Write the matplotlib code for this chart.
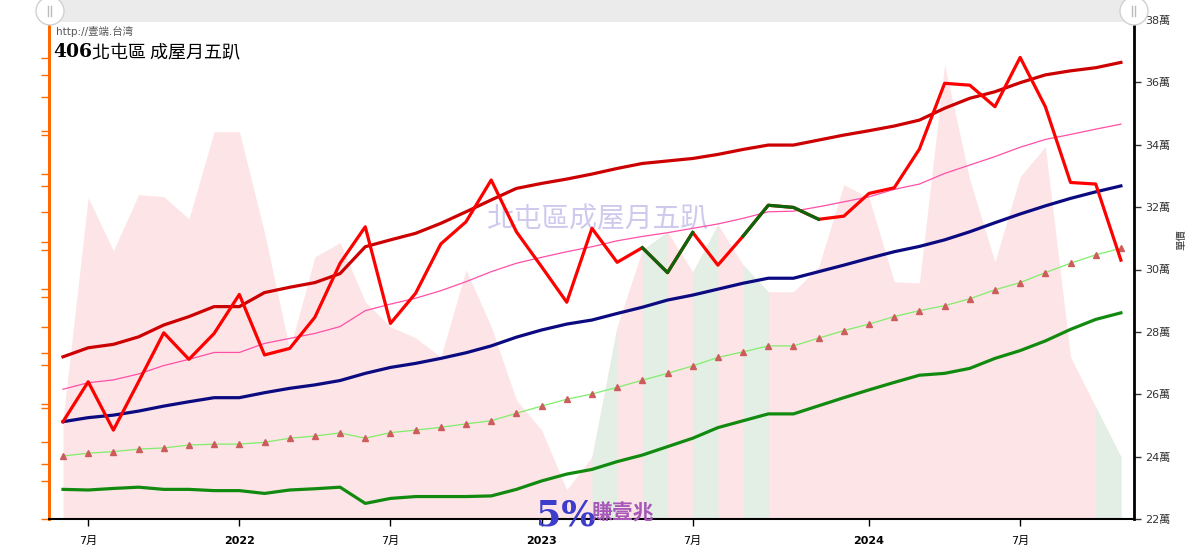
import matplotlib
matplotlib.use("Agg")
import matplotlib.pyplot as plt
from matplotlib.patches import Rectangle, Circle
import numpy as np

plt.rcParams['font.family'] = ['DejaVu Sans', 'Noto Sans CJK TC']

# monthly points, 2021-06 .. 2024-11 (one month repeated in late 2023 on the source axis)
tick_idx = [1, 7, 13, 19, 25, 32, 38]
tick_labels = ["7月", "2022", "7月", "2023", "7月", "2024", "7月"]

# unit price lines (萬/坪)
upper_band = [27.20, 27.49, 27.60, 27.84, 28.22, 28.49, 28.81, 28.81, 29.26, 29.43, 29.58,
              29.87, 30.73, 30.95, 31.16, 31.48, 31.85, 32.23, 32.60, 32.76, 32.90, 33.06,
              33.24, 33.40, 33.48, 33.56, 33.69, 33.85, 33.99, 33.99, 34.15, 34.31, 34.45,
              34.60, 34.79, 35.17, 35.49, 35.70, 35.99, 36.24, 36.37, 36.47, 36.64]
price = [25.12, 26.40, 24.85, 26.40, 27.97, 27.12, 27.95, 29.20, 27.26, 27.47, 28.47,
         30.20, 31.37, 28.27, 29.24, 30.82, 31.53, 32.87, 31.21, 30.09, 28.95, 31.32,
         30.23, 30.70, 29.90, 31.19, 30.14, 31.07, 32.06, 31.99, 31.61, 31.71, 32.44,
         32.62, 33.86, 35.97, 35.91, 35.22, 36.80, 35.22, 32.79, 32.74, 30.30]
mid_upper = [26.16, 26.37, 26.46, 26.65, 26.92, 27.12, 27.34, 27.34, 27.63, 27.79, 27.95,
             28.17, 28.68, 28.89, 29.08, 29.32, 29.61, 29.93, 30.20, 30.39, 30.57, 30.73,
             30.92, 31.06, 31.18, 31.32, 31.46, 31.64, 31.85, 31.87, 32.01, 32.17, 32.33,
             32.57, 32.74, 33.08, 33.35, 33.62, 33.92, 34.17, 34.33, 34.50, 34.66]
trend = [25.12, 25.25, 25.33, 25.46, 25.62, 25.76, 25.89, 25.89, 26.05, 26.19, 26.30,
         26.44, 26.67, 26.86, 26.99, 27.15, 27.33, 27.55, 27.83, 28.06, 28.25, 28.38,
         28.59, 28.79, 29.02, 29.18, 29.37, 29.56, 29.72, 29.72, 29.93, 30.14, 30.36,
         30.57, 30.74, 30.95, 31.21, 31.50, 31.78, 32.04, 32.28, 32.49, 32.68]
mid_lower = [24.02, 24.11, 24.16, 24.24, 24.28, 24.37, 24.40, 24.40, 24.46, 24.59, 24.66,
             24.76, 24.59, 24.77, 24.85, 24.94, 25.05, 25.15, 25.39, 25.62, 25.84, 26.01,
             26.22, 26.45, 26.67, 26.91, 27.18, 27.36, 27.55, 27.55, 27.80, 28.04, 28.25,
             28.49, 28.68, 28.84, 29.06, 29.35, 29.58, 29.90, 30.20, 30.47, 30.68]
lower_band = [22.95, 22.93, 22.98, 23.02, 22.95, 22.95, 22.91, 22.91, 22.82, 22.93, 22.97,
              23.02, 22.50, 22.66, 22.72, 22.72, 22.72, 22.74, 22.95, 23.22, 23.44, 23.59,
              23.84, 24.05, 24.32, 24.59, 24.93, 25.15, 25.37, 25.37, 25.63, 25.89, 26.14,
              26.38, 26.61, 26.67, 26.83, 27.15, 27.40, 27.71, 28.08, 28.40, 28.61]
# stretches where the price line is drawn green (start, end index)
price_green_runs = [(23, 25), (27, 30)]

# background volume (hidden left axis)
volume = [2.58, 8.37, 6.99, 8.45, 8.40, 7.82, 10.09, 10.09, 7.46, 4.41, 6.83,
          7.20, 5.66, 5.01, 4.72, 4.22, 6.49, 5.01, 3.10, 2.32, 0.76, 1.62,
          5.01, 7.01, 7.48, 6.44, 7.67, 6.62, 5.92, 5.92, 6.57, 8.71, 8.37,
          6.18, 6.15, 11.84, 8.84, 6.70, 8.92, 9.70, 4.22, 2.92, 1.62]
volume_green_segs = [21, 23, 25, 27, 41]

PINK_BG = "#fde4e6"
GREEN_BG = "#e3eee5"
ORANGE = "#ff6a00"

idx = np.arange(len(price))

fig = plt.figure(figsize=(11.89, 5.49), dpi=100)
pos = [49 / 1189, 30 / 549, 1085 / 1189, 499 / 549]

# --- volume area on hidden left axis
ax_v = fig.add_axes(pos)
ax_v.set_xlim(-0.556, 42.52)
ax_v.set_ylim(0, 13.0)
ax_v.fill_between(idx, 0, volume, color=PINK_BG, lw=0)
vol = np.array(volume)
for s in volume_green_segs:
    ax_v.fill_between(idx[s:s + 2], 0, vol[s:s + 2], color=GREEN_BG, lw=0)

for side in ("top", "right"):
    ax_v.spines[side].set_visible(False)
ax_v.spines["left"].set_color(ORANGE)
ax_v.spines["left"].set_linewidth(2)
ax_v.spines["bottom"].set_color("black")
ax_v.spines["bottom"].set_linewidth(1.5)
ax_v.set_yticks(range(13))
ax_v.tick_params(axis="y", colors=ORANGE, length=6, width=1, labelleft=False)
sec = ax_v.secondary_yaxis("left", functions=(lambda v: v * 9 / 13, lambda v: v * 13 / 9))
sec.set_yticks(range(1, 9))
sec.tick_params(axis="y", colors=ORANGE, length=6, width=1, labelleft=False)
sec.spines["left"].set_color(ORANGE)
sec.spines["left"].set_linewidth(2)

ax_v.set_xticks(tick_idx, tick_labels)
ax_v.tick_params(axis="x", length=5, width=1, labelsize=8, pad=7, colors="black")
for lbl in ax_v.get_xticklabels():
    if lbl.get_text().isdigit():
        lbl.set_fontweight("bold")

ax_v.text(0.505, 0.601, "北屯區成屋月五趴", transform=ax_v.transAxes, ha="center",
          va="center", fontsize=20, color="#cfc9ee", family="Noto Sans CJK TC",
          fontweight="light", zorder=1)

# --- price lines on right axis
ax_p = ax_v.twinx()
ax_p.set_ylim(22, 38)
ax_p.set_yticks(range(22, 39, 2), [f"{v}萬" for v in range(22, 39, 2)])
ax_p.tick_params(axis="y", length=5, width=1, labelsize=8, colors="#333333", pad=3)
for side in ("top", "left", "bottom"):
    ax_p.spines[side].set_visible(False)
ax_p.spines["right"].set_color("black")
ax_p.spines["right"].set_linewidth(2)

ax_p.plot(idx, lower_band, color="#128a10", lw=2.3)
ax_p.plot(idx, mid_lower, color="#80ee6a", lw=0.9, marker="^", ms=4,
          mfc="#cd5c5c", mec="#cd5c5c")
ax_p.plot(idx, trend, color="#0c0a80", lw=2.3)
ax_p.plot(idx, mid_upper, color="#ff4fa8", lw=0.9)
ax_p.plot(idx, upper_band, color="#cc0000", lw=2.3)
ax_p.plot(idx, price, color="#ff0000", lw=2.3)
pr = np.array(price)
for a, b in price_green_runs:
    ax_p.plot(idx[a:b + 1], pr[a:b + 1], color="#0b650b", lw=2.3)

# --- texts
fig.text(56 / 1189, 1 - 35 / 549, "http://壹端.台湾", fontsize=7.5, color="#555555")
fig.text(53 / 1189, 1 - 57 / 549, "406", fontsize=13.5, family="DejaVu Serif",
         fontweight="bold", color="black", va="baseline")
fig.text(92 / 1189, 1 - 57 / 549, "北屯區 成屋月五趴", fontsize=13,
         family="Noto Sans CJK TC", fontweight="medium", color="black", va="baseline")
fig.text(536 / 1189, 1 - 525 / 549, "5%", fontsize=26, family="DejaVu Serif",
         fontweight="bold", color="#3d3dcc", va="baseline", zorder=6)
fig.text(592 / 1189, 1 - 520 / 549, "賺壹兆", fontsize=15, family="Noto Sans CJK TC",
         fontweight="bold", color="#a757b8", va="baseline", zorder=6)
fig.text(1181 / 1189, 1 - 240 / 549, "單價", fontsize=7.5, color="#333333",
         rotation=90, ha="center", va="center")

# --- scrollbar strip at the top
ui = fig.add_axes([0, 0, 1, 1], zorder=5)
ui.set_xlim(0, 1189)
ui.set_ylim(549, 0)
ui.axis("off")
ui.patch.set_alpha(0)
ui.add_patch(Rectangle((50, 0), 1084, 22, color="#ebebeb", lw=0))
for cx in (50, 1134):
    ui.add_patch(Circle((cx, 11), 14, facecolor="white", edgecolor="#d0d0d0", lw=1))
    ui.plot([cx - 2, cx - 2], [6, 16], color="#bbbbbb", lw=1)
    ui.plot([cx + 1, cx + 1], [6, 16], color="#bbbbbb", lw=1)

fig.savefig("out.png", dpi=100)
